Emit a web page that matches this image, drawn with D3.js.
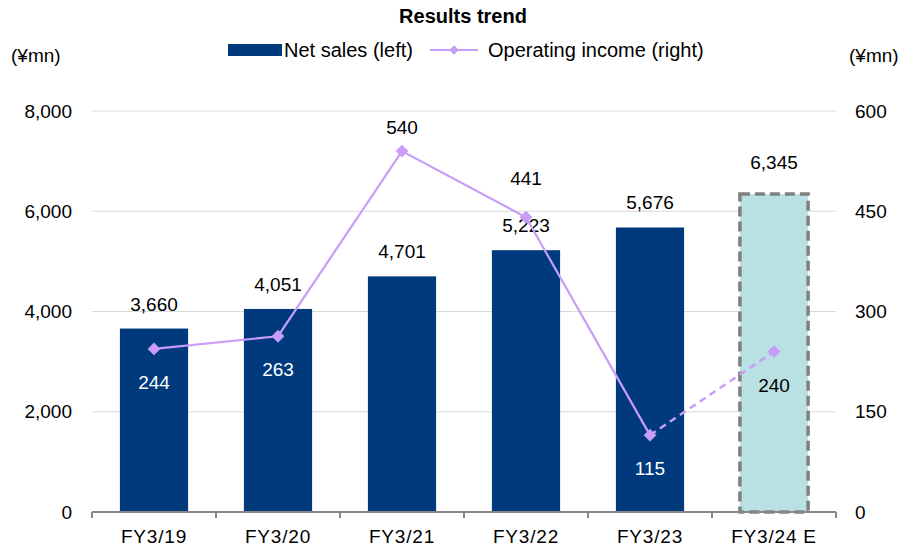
<!DOCTYPE html>
<html lang="en">
<head>
<meta charset="UTF-8">
<title>Results trend</title>
<script src="https://d3js.org/d3.v7.min.js"></script>
<style>
  body { margin: 0; background: #fff; font-family: "Liberation Sans", Arial, sans-serif; }
  svg text { fill: #000; }
</style>
</head>
<body>
<div id="chart"></div>
<script>
  // chart data
  const categories = ["FY3/19", "FY3/20", "FY3/21", "FY3/22", "FY3/23", "FY3/24 E"];
  const netSales = [3660, 4051, 4701, 5223, 5676, 6345];
  const opIncome = [244, 263, 540, 441, 115, 240];
  const leftTicks = [0, 2000, 4000, 6000, 8000];
  const rightTicks = [0, 150, 300, 450, 600];

  const W = 903, H = 548;
  const margin = { top: 111, right: 67, bottom: 36, left: 92 };
  const width = W - margin.left - margin.right,
        height = H - margin.top - margin.bottom;
  const fs = "19px";

  const svg = d3.select("#chart").append("svg")
    .attr("width", W).attr("height", H);
  const g = svg.append("g").attr("transform", `translate(${margin.left},${margin.top})`);

  const x = d3.scaleBand().domain(categories).range([0, width]).paddingInner(0.45).paddingOuter(0.225);
  const xb = d3.scaleBand().domain(categories).range([0, width]);
  const yL = d3.scaleLinear().domain([0, 8000]).range([height, 0]);
  const yR = d3.scaleLinear().domain([0, 600]).range([height, 0]);

  // gridlines
  g.append("g").selectAll("line").data(leftTicks.slice(1)).enter().append("line")
    .attr("x1", 0).attr("x2", width)
    .attr("y1", d => yL(d)).attr("y2", d => yL(d))
    .attr("stroke", "#d9d9d9").attr("stroke-width", 1);

  // left axis labels
  g.append("g").call(d3.axisLeft(yL).tickValues(leftTicks).tickSize(0).tickPadding(20)
      .tickFormat(d3.format(",")))
    .call(a => a.select(".domain").remove())
    .selectAll("text").style("font-size", fs).style("font-family", "Liberation Sans, Arial, sans-serif").attr("fill", "#000");

  // right axis labels
  g.append("g").attr("transform", `translate(${width},0)`)
    .call(d3.axisRight(yR).tickValues(rightTicks).tickSize(0).tickPadding(19))
    .call(a => a.select(".domain").remove())
    .selectAll("text").style("font-size", fs).style("font-family", "Liberation Sans, Arial, sans-serif").attr("fill", "#000");

  // bars
  const last = categories.length - 1;
  g.append("g").selectAll("rect").data(categories).enter().append("rect")
    .attr("x", d => x(d))
    .attr("y", (d, i) => yL(netSales[i]))
    .attr("width", x.bandwidth())
    .attr("height", (d, i) => height - yL(netSales[i]))
    .attr("fill", (d, i) => i === last ? "#b9e0e3" : "#003a7d")
    .attr("stroke", (d, i) => i === last ? "#808080" : "none")
    .attr("stroke-width", 3.5)
    .attr("stroke-dasharray", (d, i) => i === last ? "10,5" : null);

  // x axis
  const xAxis = g.append("g").attr("transform", `translate(0,${height})`);
  xAxis.append("line").attr("x1", 0).attr("x2", width).attr("y1", 0).attr("y2", 0)
    .attr("stroke", "#888").attr("stroke-width", 2);
  xAxis.selectAll(".tk").data(categories.concat([null])).enter().append("line")
    .attr("x1", (d, i) => i * xb.step()).attr("x2", (d, i) => i * xb.step())
    .attr("y1", 0).attr("y2", 6).attr("stroke", "#888").attr("stroke-width", 2);
  xAxis.selectAll("text").data(categories).enter().append("text")
    .attr("x", d => xb(d) + xb.bandwidth() / 2).attr("y", 31)
    .attr("text-anchor", "middle").style("font-size", fs).style("letter-spacing", "0.8px")
    .text(d => d);

  // net sales labels
  g.append("g").selectAll("text").data(categories).enter().append("text")
    .attr("x", d => x(d) + x.bandwidth() / 2)
    .attr("y", (d, i) => yL(netSales[i]) - (i === last ? 25 : 18))
    .attr("text-anchor", "middle").style("font-size", fs)
    .text((d, i) => d3.format(",")(netSales[i]));

  // operating income line
  const cx = d => x(d) + x.bandwidth() / 2;
  const line = d3.line().x(d => cx(d[0])).y(d => yR(d[1]));
  const pts = categories.map((c, i) => [c, opIncome[i]]);
  const lineColor = "#c89cf7";
  g.append("path").datum(pts.slice(0, last)).attr("d", line)
    .attr("fill", "none").attr("stroke", lineColor).attr("stroke-width", 2.2);
  g.append("path").datum(pts.slice(last - 1)).attr("d", line)
    .attr("fill", "none").attr("stroke", lineColor).attr("stroke-width", 2.5)
    .attr("stroke-dasharray", "7,5");

  const diamond = d3.symbol().type(d3.symbolDiamond2).size(105);
  g.append("g").selectAll("path").data(pts).enter().append("path")
    .attr("d", diamond)
    .attr("transform", d => `translate(${cx(d[0])},${yR(d[1])})`)
    .attr("fill", lineColor);

  // operating income labels: dy from marker, white when sitting on a dark bar
  const opLabelDy = [40, 40, -17, -32, 40, 40];
  g.append("g").selectAll("text").data(pts).enter().append("text")
    .attr("x", d => cx(d[0]))
    .attr("y", (d, i) => yR(d[1]) + opLabelDy[i])
    .attr("text-anchor", "middle").style("font-size", fs)
    .style("fill", (d, i) => opLabelDy[i] > 0 && i !== last ? "#fff" : "#000")
    .text(d => d[1]);

  // title
  svg.append("text").attr("x", 463).attr("y", 23).attr("text-anchor", "middle")
    .style("font-size", "20px").style("font-weight", "bold").text("Results trend");

  // unit labels
  svg.append("text").attr("x", 11).attr("y", 62).style("font-size", fs).text("(¥mn)");
  svg.append("text").attr("x", 849).attr("y", 62).style("font-size", fs).text("(¥mn)");

  // legend
  const lg = svg.append("g").attr("transform", "translate(228,50)");
  lg.append("rect").attr("x", 0).attr("y", -6).attr("width", 54).attr("height", 12).attr("fill", "#003a7d");
  lg.append("text").attr("x", 56).attr("y", 7).style("font-size", "20px").text("Net sales (left)");
  lg.append("line").attr("x1", 202).attr("x2", 250).attr("y1", 0).attr("y2", 0)
    .attr("stroke", lineColor).attr("stroke-width", 2);
  lg.append("path").attr("d", d3.symbol().type(d3.symbolDiamond2).size(60)).attr("transform", "translate(226,0)").attr("fill", lineColor);
  lg.append("text").attr("x", 260).attr("y", 7).style("font-size", "20px").text("Operating income (right)");
</script>
</body>
</html>
